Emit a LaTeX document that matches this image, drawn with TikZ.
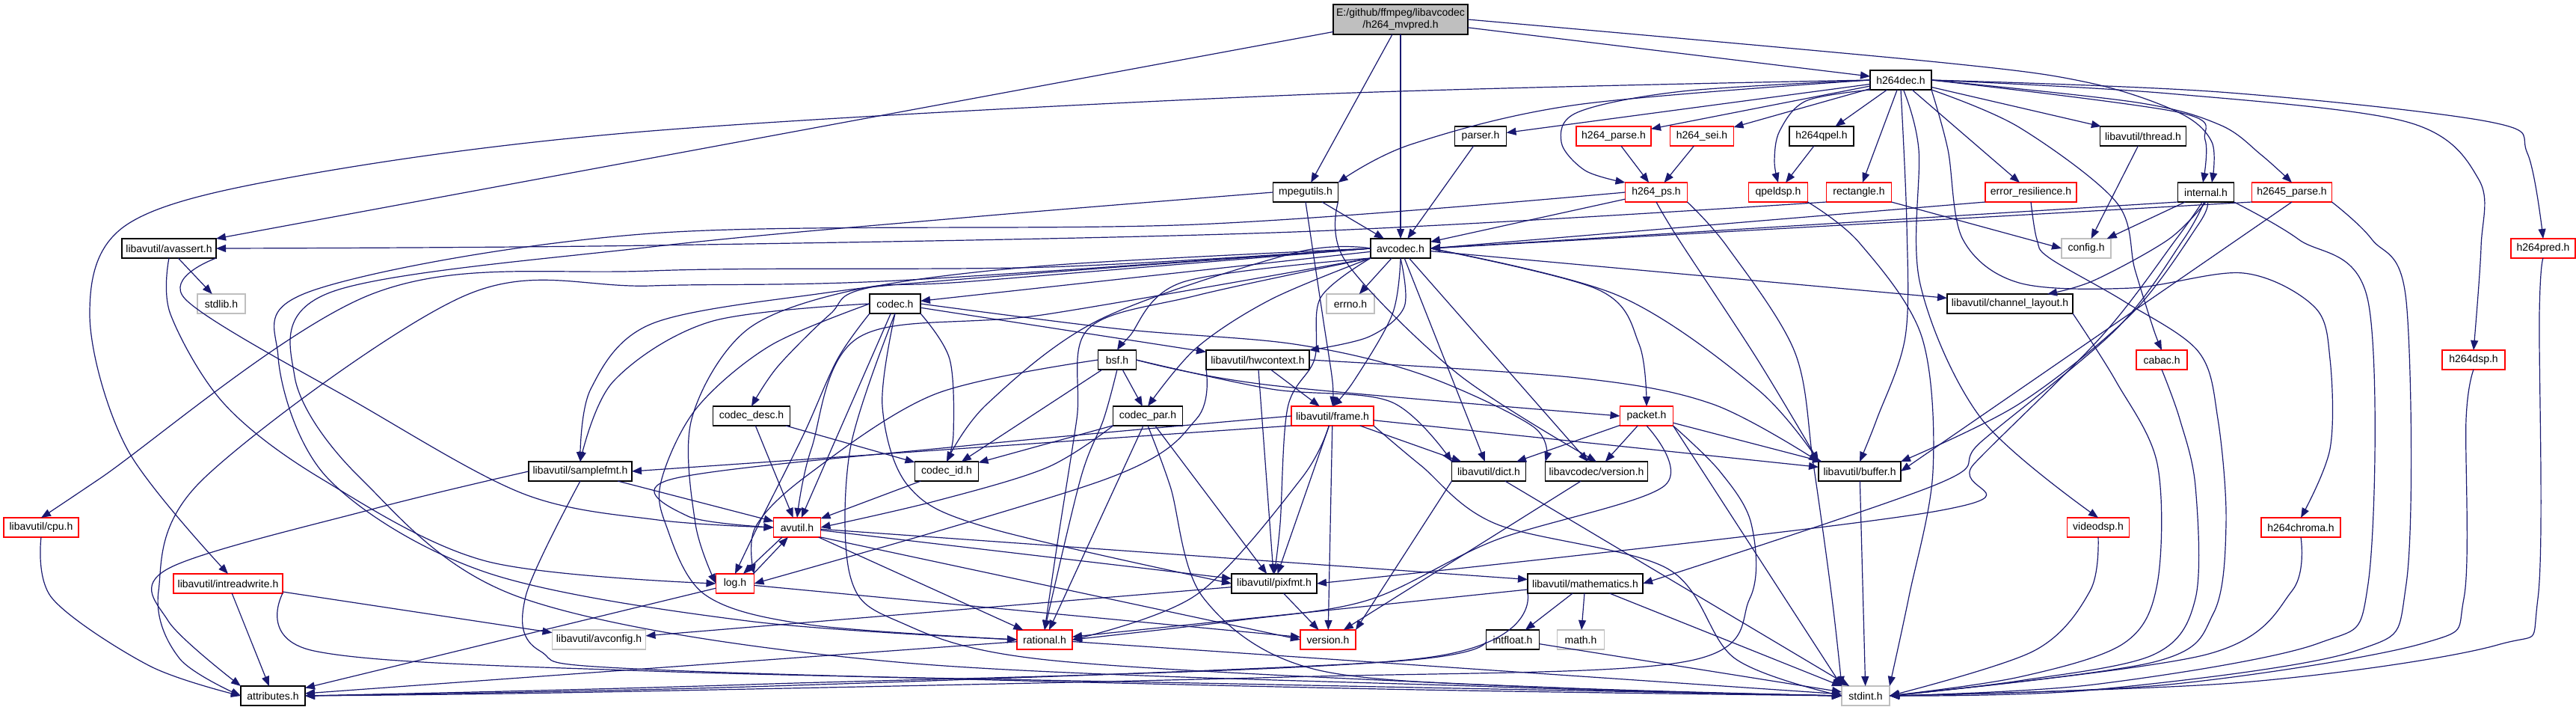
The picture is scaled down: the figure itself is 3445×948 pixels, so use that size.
\documentclass[tikz,border=0pt]{standalone}
\usepackage{fontspec}
\setmainfont{Liberation Sans}
\usetikzlibrary{arrows.meta}
\definecolor{ecol}{HTML}{191970}
\definecolor{rcol}{HTML}{FF0000}
\definecolor{gcol}{HTML}{BFBFBF}
\newcommand{\nf}{\fontsize{14}{16}\selectfont}
\newcommand{\ce}[1]{\draw[conn] plot[smooth, tension=0.55] coordinates {#1};}
\tikzset{
 nb/.style={draw=black, line width=1.4pt, fill=white, minimum height=26pt, inner sep=0pt, outer sep=0pt, font=\nf},
 nr/.style={nb, draw=rcol},
 ng/.style={nb, draw=gcol},
 nm/.style={nb, fill=gcol},
 conn/.style={draw=ecol, line width=1.2pt, -{Triangle[length=13pt,width=10pt]}}
}
\begin{document}
\begin{tikzpicture}[x=1pt,y=-1pt]
\fill[white] (0,0) rectangle (3445,948);
\useasboundingbox (0,0) rectangle (3445,948);
% nodes
\node[nm, minimum width=180pt, minimum height=40pt, align=center] (m) at (1873,26) {E:/github/ffmpeg/libavcodec\\/h264\_mvpred.h};
\node[nb, minimum width=82pt] (hd) at (2542,107) {h264dec.h};
\node[nb, minimum width=87pt] (mpeg) at (1746,257) {mpegutils.h};
\node[nb, minimum width=69pt] (parser) at (1980,182) {parser.h};
\node[nr, minimum width=100pt] (hparse) at (2158,182) {h264\_parse.h};
\node[nr, minimum width=85pt] (hsei) at (2276,182) {h264\_sei.h};
\node[nb, minimum width=86pt] (hqpel) at (2436,182) {h264qpel.h};
\node[nr, minimum width=83pt] (hps) at (2215,257) {h264\_ps.h};
\node[nr, minimum width=79pt] (qpel) at (2378,257) {qpeldsp.h};
\node[nr, minimum width=87pt] (rect) at (2486,257) {rectangle.h};
\node[nb, minimum width=115pt] (thread) at (2866,182) {libavutil/thread.h};
\node[nr, minimum width=122pt] (er) at (2716,257) {error\_resilience.h};
\node[nb, minimum width=75pt] (internal) at (2950,257) {internal.h};
\node[nr, minimum width=107pt] (h2645) at (3065,257) {h2645\_parse.h};
\node[nb, minimum width=80pt] (avcodec) at (1873,332) {avcodec.h};
\node[nb, minimum width=126pt] (avassert) at (226,332) {libavutil/avassert.h};
\node[ng, minimum width=66pt] (config) at (2790,332) {config.h};
\node[nr, minimum width=86pt] (h264pred) at (3401,332) {h264pred.h};
\node[nb, minimum width=68pt] (codec) at (1197,406) {codec.h};
\node[ng, minimum width=64pt] (errno) at (1806,406) {errno.h};
\node[ng, minimum width=64pt] (stdlib) at (296,406) {stdlib.h};
\node[nb, minimum width=168pt] (chlayout) at (2688,406) {libavutil/channel\_layout.h};
\node[nb, minimum width=51pt] (bsf) at (1494,481) {bsf.h};
\node[nb, minimum width=138pt] (hw) at (1682,481) {libavutil/hwcontext.h};
\node[nr, minimum width=68pt] (cabac) at (2891,481) {cabac.h};
\node[nr, minimum width=84pt] (h264dsp) at (3308,481) {h264dsp.h};
\node[nb, minimum width=103pt] (cdesc) at (1005,556) {codec\_desc.h};
\node[nb, minimum width=93pt] (cpar) at (1535,556) {codec\_par.h};
\node[nr, minimum width=110pt] (frame) at (1782,556) {libavutil/frame.h};
\node[nr, minimum width=71pt] (packet) at (2202,556) {packet.h};
\node[nb, minimum width=85pt] (cid) at (1266,630) {codec\_id.h};
\node[nb, minimum width=138pt] (sfmt) at (776,630) {libavutil/samplefmt.h};
\node[nb, minimum width=99pt] (dict) at (1991,630) {libavutil/dict.h};
\node[nb, minimum width=137pt] (lcver) at (2135,630) {libavcodec/version.h};
\node[nb, minimum width=110pt] (buffer) at (2487,630) {libavutil/buffer.h};
\node[nr, minimum width=100pt] (cpu) at (55,705) {libavutil/cpu.h};
\node[nr, minimum width=63pt] (avutil) at (1066,705) {avutil.h};
\node[nr, minimum width=83pt] (videodsp) at (2806,705) {videodsp.h};
\node[nr, minimum width=106pt] (chroma) at (3077,705) {h264chroma.h};
\node[nr, minimum width=146pt] (irw) at (305,780) {libavutil/intreadwrite.h};
\node[nr, minimum width=51pt] (log) at (983,780) {log.h};
\node[nb, minimum width=114pt] (pixfmt) at (1704,780) {libavutil/pixfmt.h};
\node[nb, minimum width=154pt] (math) at (2120,780) {libavutil/mathematics.h};
\node[ng, minimum width=125pt] (avconfig) at (801,855) {libavutil/avconfig.h};
\node[nr, minimum width=74pt] (rational) at (1397,855) {rational.h};
\node[nr, minimum width=74pt] (version) at (1776,855) {version.h};
\node[nb, minimum width=71pt] (intfloat) at (2023,855) {intfloat.h};
\node[ng, minimum width=63pt] (mathh) at (2114,855) {math.h};
\node[nb, minimum width=86pt] (attr) at (365,930) {attributes.h};
\node[ng, minimum width=64pt] (stdint) at (2495,930) {stdint.h};
% main
\draw[conn] (m) -- (avassert.north east);
\draw[conn] (m) -- (mpeg);
\draw[conn] (m) -- (avcodec);
\draw[conn] (m) -- (hd);
\ce{(m.east) (2591,83) (2791,110) (2913,150) (2958,190) ([xshift=8pt]internal.north)}
% h264dec
\ce{(hd.west) (1731,127) (871,175) (400,235) (170,300) (120,420) (170,600) (irw.north)}
\ce{(hd.west) (2109,140) (1887,193) (mpeg.north east)}
\draw[conn] (hd) -- (parser);
\draw[conn] (hd) -- (hparse);
\draw[conn] (hd) -- (hsei);
\draw[conn] (hd) -- (hqpel);
\draw[conn] (hd) -- (rect);
\draw[conn] (hd) -- (er);
\draw[conn] (hd) -- (thread);
\ce{(hd.west) (2250,122) (2110,150) (2088,190) (2120,228) (hps.north west)}
\ce{(hd.south west) (2415,135) (2380,175) (2373,215) (qpel.north)}
\ce{(hd.east) (2913,150) (2949,187) ([xshift=-4pt]internal.north)}
\ce{(hd.east) (2858,137) (2969,167) (3024,207) (h2645.north)}
\ce{(hd.east) (2969,123) (3330,163) (3380,205) (h264pred.north)}
\ce{(hd.east) (2900,125) (3219,163) (3315,240) (3318,330) (h264dsp.north)}
\ce{(hd.south east) (2700,170) (2830,270) (2855,360) (2880,440) (cabac.north)}
\ce{(hd.-75) (2566,200) (2568,380) (2650,560) (videodsp.north)}
\ce{(hd.south east) (2605,200) (2625,320) (2700,378) (2850,385) (3000,365) (3095,410) (3116,480) (3116,600) (chroma.north)}
\ce{(hd.south) (2550,300) (2548,450) (2510,560) (buffer.north)}
% avassert
\draw[conn] (avassert) -- (stdlib);
\ce{(avassert.south) (228,420) (300,540) (430,640) (650,750) (log.west)}
\ce{(avassert.south east) (248,400) (480,540) (700,660) (880,695) (avutil.west)}
% rectangle
\ce{(rect.south west) (1731,310) (871,328) (avassert.east)}
\draw[conn] (rect.south east) -- (config.west);
% mpegutils
\draw[conn] (mpeg) -- (avcodec);
\ce{(mpeg.south) (1755,330) (1770,430) (1782,510) (frame.north)}
\ce{(mpeg.west) (1300,290) (871,330) (444,390) (394,503) (483,640) (700,800) (1200,885) (2000,918) (stdint.west)}
\ce{(mpeg.south east) (1800,350) (1950,500) (lcver.north)}
% others top
\draw[conn] (parser) -- (avcodec);
\draw[conn] (hparse) -- (hps);
\draw[conn] (hsei) -- (hps);
\draw[conn] (hqpel) -- (qpel);
\draw[conn] (hps) -- (avcodec);
\ce{(hps.south) (2245,320) (2350,480) (buffer.north west)}
\ce{(hps.south east) (2310,330) (2400,470) (2425,620) (2450,800) (stdint.north west)}
\ce{(hps.west) (1600,300) (871,312) (422,387) (372,477) (439,640) (650,765) (1000,830) (rational.west)}
\ce{(qpel.south east) (2487,325) (2570,450) (2585,630) (2553,797) (stdint.north east)}
\draw[conn] (er.south west) -- (avcodec.east);
\ce{(er.south) (2724,320) (2741,345) (2841,403) (2940,470) (2966,560) (2977,700) (2960,820) (2880,885) (stdint.east)}
\draw[conn] (internal.south west) -- (avcodec.east);
\draw[conn] (internal) -- (config);
\ce{(internal.south) (2900,320) (2800,375) ([xshift=50pt]chlayout.north)}
\ce{(internal.-80) (2940,300) (2850,420) (2700,540) (buffer.north east)}
\ce{(internal.-100) (2920,320) (2830,440) (2650,590) (2591,647) (math.east)}
\ce{(internal.-110) (2910,320) (2810,450) (2640,620) (2591,683) (pixfmt.east)}
\ce{(internal.south east) (3074,320) (3167,403) (3167,780) (3100,860) (2800,915) (stdint.east)}
\draw[conn] (h2645.south west) -- (avcodec.east);
\draw[conn] (h2645.south) -- (buffer.east);
\ce{(h2645.south east) (3172,320) (3218,403) (3218,780) (3150,870) (2800,922) (stdint.east)}
\draw[conn] (thread) -- (config);
\ce{(chlayout.south east) (2830,510) (2885,620) (2885,780) (2840,860) (2700,905) (stdint.east)}
\ce{(cabac.south) (2915,560) (2936,650) (2936,800) (2880,875) (2700,910) (stdint.east)}
\ce{(h264dsp.south) (3298,560) (3295,800) (3240,860) (2900,915) (stdint.east)}
\ce{(h264pred.south) (3396,420) (3394,800) (3340,862) (3000,912) (stdint.east)}
\ce{(videodsp.south) (2795,790) (2720,870) (stdint.east)}
\ce{(chroma.south) (3065,790) (2950,875) (stdint.east)}
% avcodec
\draw[conn] (avcodec) -- (errno);
\draw[conn] (avcodec) -- (codec);
\ce{(avcodec.west) (1400,355) (1160,385) (1110,420) (1040,490) (cdesc.north)}
\ce{(avcodec.west) (1731,338) (1471,427) (1320,540) (cid.north)}
\ce{(avcodec.south west) (1582,377) (1510,450) (bsf.north)}
\ce{(avcodec.south west) (1700,400) (1600,465) (cpar.north)}
\ce{(avcodec.south) (1878,410) (1831,450) (hw.north east)}
\ce{(avcodec.south) (1862,420) (1810,510) (frame.north)}
\ce{(avcodec.east) (2137,387) (2192,460) (packet.north)}
\draw[conn] (avcodec) -- (dict);
\draw[conn] (avcodec) -- (lcver);
\ce{(avcodec.east) (2164,395) (2350,520) (buffer.north west)}
\draw[conn] (avcodec) -- (chlayout);
\ce{(avcodec.west) (1400,357) (871,362) (500,392) (133,640) (cpu.north)}
\ce{(avcodec.west) (1200,375) (871,382) (622,395) (272,640) (212,790) (240,880) (attr.west)}
\ce{(avcodec.west) (1300,372) (1100,392) (871,433) (790,520) (sfmt.north)}
\ce{(avcodec.south west) (1400,420) (1150,450) (1085,600) (avutil.north)}
\ce{(avcodec.west) (1300,376) (1150,386) (1000,440) (925,560) (930,700) (log.west)}
\ce{(avcodec.south west) (1766,398) (1758,480) (1722,545) (1712,700) (pixfmt.north)}
\ce{(avcodec.south west) (1600,395) (1455,440) (1440,560) (1415,720) (rational.north)}
% codec
\draw[conn] (codec) -- (hw);
\ce{(codec.east) (1500,440) (1731,460) (1900,500) (2050,570) (lcver.north west)}
\ce{(codec.south east) (1270,480) (1275,580) (cid.north)}
\ce{(codec.west) (950,430) (820,510) (sfmt.north)}
\draw[conn] (codec) -- (avutil);
\ce{(codec.south west) (1120,480) (1075,580) (1020,690) (log.north)}
\ce{(codec.south) (1180,543) (1215,650) (1320,705) (pixfmt.west)}
\ce{(codec.west) (1030,462) (932,545) (885,640) (890,700) (943,795) (1082,835) (rational.west)}
\ce{(codec.south) (1137,600) (1137,770) (1200,830) (1400,882) (2000,916) (stdint.west)}
% desc, id, bsf
\draw[conn] (cdesc) -- (avutil);
\draw[conn] (cdesc) -- (cid);
\draw[conn] (cid) -- (avutil);
\draw[conn] (bsf) -- (cpar);
\draw[conn] (bsf) -- (cid);
\ce{(bsf.west) (1250,527) (1080,635) (1010,705) (log.north east)}
\ce{(bsf.south) (1476,560) (1445,640) (rational.north)}
\ce{(bsf.east) (1700,515) (packet.west)}
\ce{(bsf.east) (1700,520) (1860,537) (dict.north west)}
% hwcontext
\draw[conn] (hw) -- (frame);
\ce{(hw.south west) (1600,560) (1480,640) (log.east)}
\draw[conn] (hw) -- (pixfmt);
\ce{(hw.east) (2109,505) (2290,540) (buffer.north west)}
% codec_par
\draw[conn] (cpar) -- (cid);
\ce{(cpar.south west) (1400,625) (1250,670) (avutil.east)}
\draw[conn] (cpar) -- (rational);
\draw[conn] (cpar) -- (pixfmt);
\ce{(cpar.south) (1565,650) (1610,800) (1760,895) (2100,920) (stdint.west)}
% frame
\draw[conn] (frame) -- (dict);
\draw[conn] (frame) -- (buffer);
\draw[conn] (frame.south west) -- (sfmt.east);
\ce{(frame.west) (1300,595) (900,640) (920,690) (avutil.west)}
\draw[conn] (frame) -- (pixfmt);
\draw[conn] (frame) -- (version);
\ce{(frame.-110) (1740,640) (1600,795) (rational.east)}
\ce{(frame.south east) (1900,622) (2000,700) (2230,760) (2320,880) (stdint.west)}
% packet
\draw[conn] (packet) -- (dict);
\draw[conn] (packet) -- (lcver);
\draw[conn] (packet) -- (buffer);
\draw[conn] (packet.south east) -- (stdint.north west);
\ce{(packet.south) (2225,650) (2000,722) (1830,802) (1650,830) (rational.east)}
\ce{(packet.south east) (2300,630) (2342,700) (2340,800) (2250,885) (1720,905) (800,925) (attr.east)}
% lower
\draw[conn] (dict) -- (stdint);
\draw[conn] (dict.south west) -- (version.north east);
\draw[conn] (lcver) -- (version);
\draw[conn] (buffer) -- (stdint);
\draw[conn] (sfmt) -- (avutil);
\ce{(sfmt.west) (500,680) (225,760) (225,830) (attr.north west)}
\ce{(sfmt.south) (703,797) (722,870) (871,895) (1800,920) (stdint.west)}
\ce{(cpu.south) (70,800) (200,890) (attr.west)}
\draw[conn] (avutil.-147) -- (log.50);
\draw[conn] (log.28) -- (avutil.-133);
\draw[conn] (avutil) -- (pixfmt);
\draw[conn] (avutil) -- (math);
\draw[conn] (avutil) -- (rational);
\draw[conn] (avutil.south east) -- (version.west);
\draw[conn] (log) -- (attr);
\draw[conn] (log) -- (version);
\draw[conn] (pixfmt) -- (avconfig);
\draw[conn] (pixfmt) -- (version);
\draw[conn] (math) -- (rational);
\ce{(math.south west) (1900,880) (1000,915) (attr.east)}
\draw[conn] (math) -- (intfloat);
\draw[conn] (math) -- (mathh);
\draw[conn] (math) -- (stdint);
\draw[conn] (intfloat) -- (stdint);
\ce{(intfloat.west) (1850,885) (1000,918) (attr.east)}
\draw[conn] (rational) -- (stdint);
\draw[conn] (rational) -- (attr);
\draw[conn] (irw) -- (avconfig);
\draw[conn] (irw) -- (attr);
\ce{(irw.south east) (420,870) (871,897) (1700,915) (stdint.west)}
\end{tikzpicture}
\end{document}
